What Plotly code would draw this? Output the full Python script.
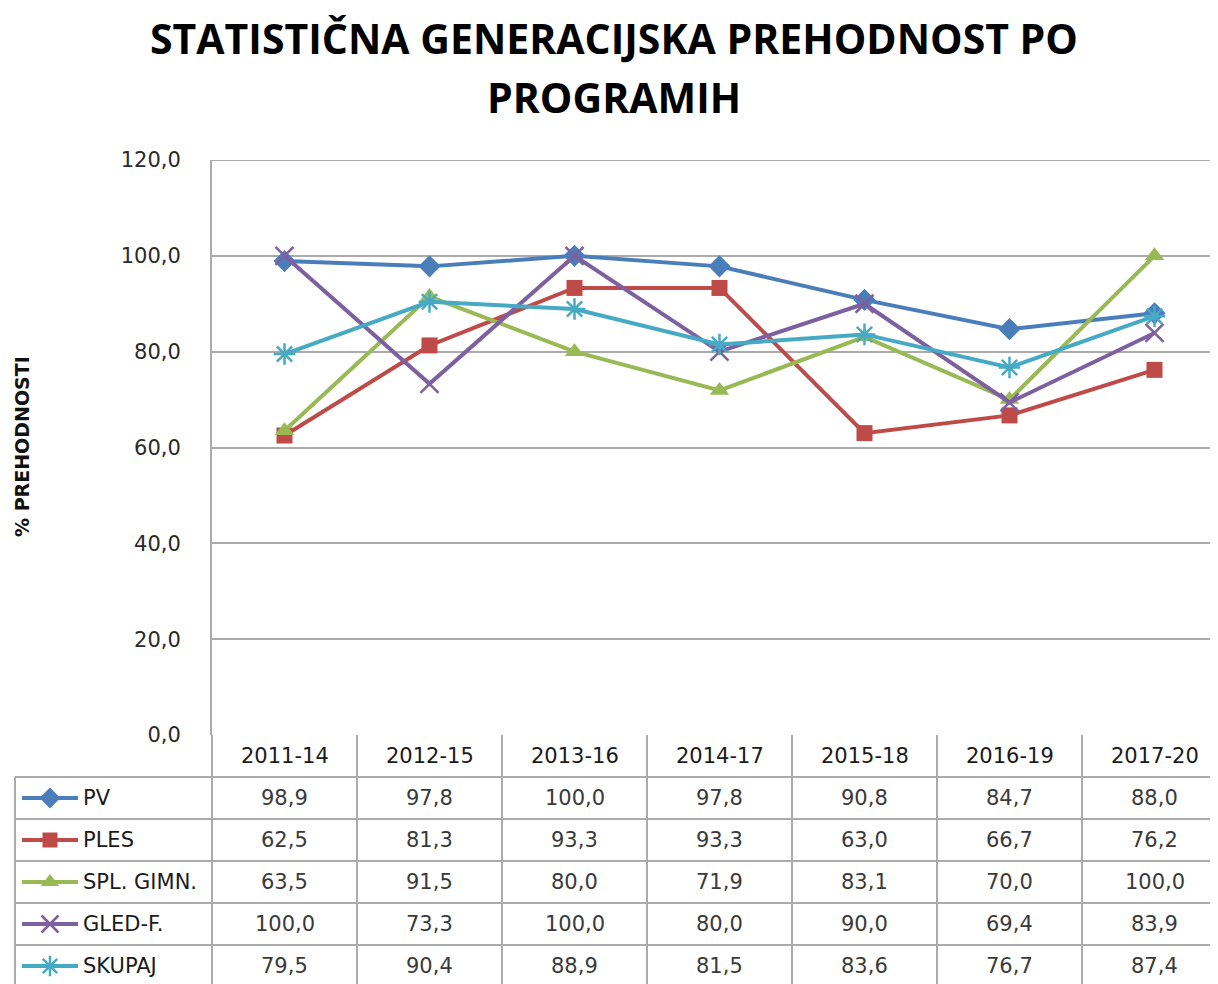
import plotly.graph_objects as go

categories = ["2011-14", "2012-15", "2013-16", "2014-17", "2015-18", "2016-19", "2017-20"]
series_names = ["PV", "PLES", "SPL. GIMN.", "GLED-F.", "SKUPAJ"]
pv = [98.9, 97.8, 100.0, 97.8, 90.8, 84.7, 88.0]
ples = [62.5, 81.3, 93.3, 93.3, 63.0, 66.7, 76.2]
spl_gimn = [63.5, 91.5, 80.0, 71.9, 83.1, 70.0, 100.0]
gled_f = [100.0, 73.3, 100.0, 80.0, 90.0, 69.4, 83.9]
skupaj = [79.5, 90.4, 88.9, 81.5, 83.6, 76.7, 87.4]
series_values = [pv, ples, spl_gimn, gled_f, skupaj]
y_ticks = [0, 20, 40, 60, 80, 100, 120]

colors = ["#4A7EBB", "#BE4B48", "#98B954", "#7D60A0", "#46AAC5"]
symbols = ["diamond", "square", "triangle-up", "x-thin-open", "asterisk-open"]
msizes = [17, 16, 17, 18, 18]

W, H = 1218, 984
OFF = 8  # page offset of the plot div
PX_LEFT, PX_TOP, PX_BOTTOM = 212, 160, 735  # reference-pixel positions of plot area
COLW = 145.0
ROWH = 42.0
HEAD_C = 756.0
grid_col = "#ABABAB"
FONT = "DejaVu Sans"


def fx(px):
    return (px - OFF) / W


def fy(py):
    return 1 - (py - OFF) / H


def cat_of_px(px):
    return (px - PX_LEFT) / COLW - 0.5


def row_of_px(py):
    return (py - HEAD_C) / ROWH


fig = go.Figure()
xi = list(range(len(categories)))

for name, vals, c, s, ms in zip(series_names, series_values, colors, symbols, msizes):
    mline = dict(width=2.5, color=c) if "open" in s else dict(width=0)
    fig.add_trace(go.Scatter(
        x=xi, y=vals, mode="lines+markers", name=name,
        line=dict(color=c, width=4),
        marker=dict(symbol=s, size=ms, color=c, line=mline),
        xaxis="x", yaxis="y", showlegend=False, cliponaxis=False))

x_range = [cat_of_px(PX_LEFT), cat_of_px(W + OFF)]
x2_range = [cat_of_px(OFF), cat_of_px(W + OFF)]

# legend keys inside the table's first column
for r, (name, c, s, ms) in enumerate(zip(series_names, colors, symbols, msizes), start=1):
    mline = dict(width=2.5, color=c) if "open" in s else dict(width=0)
    fig.add_trace(go.Scatter(
        x=[cat_of_px(22), cat_of_px(78)], y=[r, r],
        mode="lines", line=dict(color=c, width=4),
        xaxis="x2", yaxis="y2", showlegend=False, hoverinfo="skip"))
    fig.add_trace(go.Scatter(
        x=[cat_of_px(50)], y=[r], mode="markers",
        marker=dict(symbol=s, size=ms - 1, color=c, line=mline),
        xaxis="x2", yaxis="y2", showlegend=False, hoverinfo="skip", cliponaxis=False))

shapes = []
# top gridline of the plot area (120,0)
shapes.append(dict(type="line", xref="x domain", yref="y", x0=0, x1=1,
                   y0=y_ticks[-1], y1=y_ticks[-1], line=dict(color=grid_col, width=2)))
ncol = len(categories)
nrows = len(series_names)
for k in range(ncol + 1):
    xv = k - 0.5
    shapes.append(dict(type="line", xref="x2", yref="y2", x0=xv, x1=xv,
                       y0=-0.5, y1=nrows + 1, line=dict(color=grid_col, width=2)))
shapes.append(dict(type="line", xref="x2", yref="y2", x0=cat_of_px(15), x1=cat_of_px(15),
                   y0=0.5, y1=nrows + 1, line=dict(color=grid_col, width=2)))
for rr in range(nrows + 1):
    yv = rr + 0.5
    shapes.append(dict(type="line", xref="x2", yref="y2", x0=cat_of_px(15), x1=x2_range[1],
                       y0=yv, y1=yv, line=dict(color=grid_col, width=2)))

annotations = []
for i, cat in enumerate(categories):
    annotations.append(dict(x=i, y=0, xref="x2", yref="y2", text=cat, showarrow=False,
                            font=dict(family=FONT, size=21, color="#1a1a1a")))
for r, vals in enumerate(series_values, start=1):
    for i, v in enumerate(vals):
        annotations.append(dict(x=i, y=r, xref="x2", yref="y2",
                                text=f"{v:.1f}".replace(".", ","), showarrow=False,
                                font=dict(family=FONT, size=21, color="#3a3a3a")))
for r, name in enumerate(series_names, start=1):
    annotations.append(dict(x=cat_of_px(81), y=r, xref="x2", yref="y2", text=name,
                            showarrow=False, xanchor="left",
                            font=dict(family=FONT, size=21, color="#1a1a1a")))
# title (two centred lines)
annotations.append(dict(x=fx(614), y=fy(38), xref="paper", yref="paper",
                        xanchor="center", yanchor="middle",
                        text="<b>STATISTIČNA GENERACIJSKA PREHODNOST PO</b>", showarrow=False,
                        font=dict(family="Open Sans", size=41, color="#000000")))
annotations.append(dict(x=fx(614), y=fy(97), xref="paper", yref="paper",
                        xanchor="center", yanchor="middle",
                        text="<b>PROGRAMIH</b>", showarrow=False,
                        font=dict(family="Open Sans", size=41, color="#000000")))
# y axis title
annotations.append(dict(x=fx(22), y=fy(447), xref="paper", yref="paper",
                        xanchor="center", yanchor="middle",
                        text="<b>% PREHODNOSTI</b>", textangle=-90, showarrow=False,
                        font=dict(family=FONT, size=19, color="#111111")))

fig.update_layout(
    width=W, height=H,
    margin=dict(l=0, r=0, t=0, b=0),
    paper_bgcolor="white", plot_bgcolor="white",
    separators=",.",
    xaxis=dict(domain=[fx(PX_LEFT), 1], range=x_range, showticklabels=False, automargin=False,
               showgrid=False, zeroline=False, showline=False, ticks="", fixedrange=True),
    yaxis=dict(domain=[fy(PX_BOTTOM), fy(PX_TOP)], range=[0, 120], automargin=False,
               tickvals=y_ticks, tickformat=".1f", showgrid=True, gridcolor=grid_col,
               gridwidth=2, zeroline=False, showline=True, linecolor=grid_col, linewidth=2,
               ticks="", ticklabelstandoff=25,
               tickfont=dict(family=FONT, size=21, color="#2a2a2a")),
    xaxis2=dict(domain=[0, 1], range=x2_range, visible=False, anchor="y2", automargin=False),
    yaxis2=dict(domain=[0, fy(PX_BOTTOM)], range=[row_of_px(H + OFF), row_of_px(PX_BOTTOM)],
                visible=False, anchor="x2", automargin=False),
    shapes=shapes, annotations=annotations,
)

fig.write_html("out.html")
